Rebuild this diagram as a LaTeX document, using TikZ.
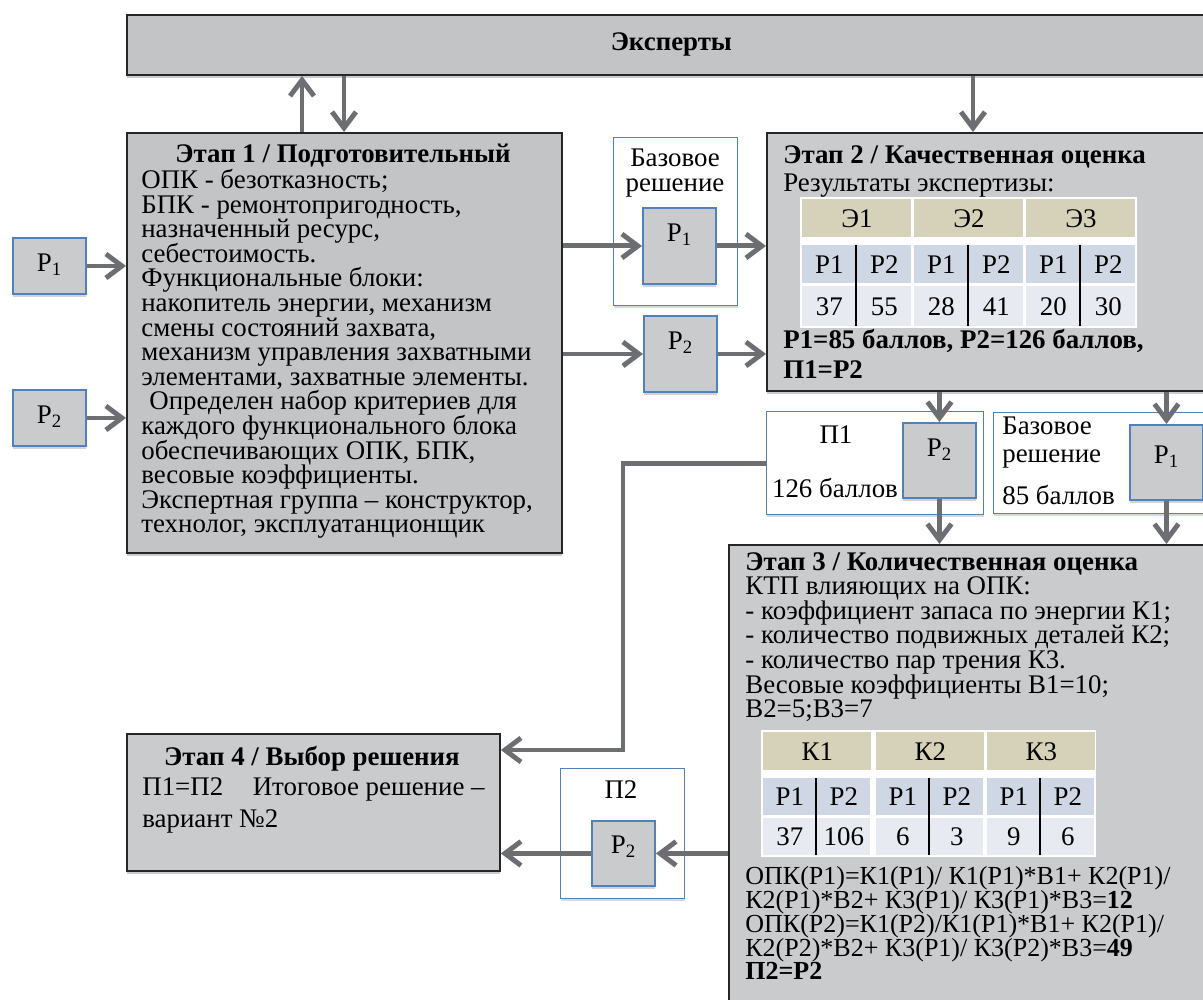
\documentclass[tikz,border=0pt]{standalone}
\usepackage{fontspec}
\setmainfont{Liberation Serif}
\usetikzlibrary{arrows.meta,shadows,positioning}

\definecolor{stagegray}{HTML}{CACBCD}
\definecolor{bargray}{HTML}{C3C4C6}
\definecolor{flowgray}{HTML}{6D6E71}
\definecolor{varblue}{HTML}{4F81BD}
\definecolor{headtan}{HTML}{D5D2B9}
\definecolor{rowblue}{HTML}{CFD6E4}
\definecolor{rowlight}{HTML}{E8EAF2}

\newcommand\bodyfont{\fontsize{15.3}{14}\selectfont\lineskiplimit=-20pt\relax}
\newcommand\calcfont{\fontsize{14.8}{13.6}\selectfont\lineskiplimit=-20pt\relax}

\tikzset{
  stage/.style={draw=black!85, line width=1.1pt, fill=stagegray, inner sep=0pt, anchor=north west,
    drop shadow={shadow xshift=0pt, shadow yshift=-1.8pt, opacity=0.4}},
  holder/.style={draw=varblue, line width=0.8pt, fill=white, inner sep=0pt, anchor=north west,
    drop shadow={shadow xshift=0pt, shadow yshift=-1.5pt, opacity=0.3}},
  pvar/.style={draw=varblue, line width=1.1pt, fill=stagegray, inner sep=0pt, anchor=north west,
    minimum width=1.46cm, drop shadow={shadow xshift=0pt, shadow yshift=-1.8pt, opacity=0.35}},
  flow/.style={draw=flowgray, line width=2.8pt, -{Straight Barb[length=3.2mm,width=4.8mm]}},
  textblock/.style={anchor=north west, align=left, inner sep=0pt},
  headcell/.style={anchor=north west, fill=headtan, inner sep=0pt, minimum height=0.76cm},
  varcell/.style={anchor=north west, fill=rowblue, inner sep=0pt, minimum height=0.76cm},
  numcell/.style={anchor=north west, fill=rowlight, inner sep=0pt, minimum height=0.8cm},
  divider/.style={draw=black, line width=1.6pt}
}

\begin{document}
\begin{tikzpicture}[x=0.02cm, y=-0.02cm, every node/.style={font=\bodyfont}]
\useasboundingbox (0,0) rectangle (1203,1000);
\clip (0,0) rectangle (1203,1000);

% experts and stages
\node[stage, fill=bargray, minimum width=21.78cm, minimum height=1.2cm] (experts) at (126,14) {};
\node[font=\bodyfont\bfseries] (expertslbl) at (experts.center) {Эксперты};
\node[stage, fill=bargray, minimum width=8.7cm, minimum height=8.4cm] (st1) at (126,132) {};
\node[stage, minimum width=8.98cm, minimum height=5.16cm] (st2) at (766,132) {};
\node[stage, minimum width=9.74cm, minimum height=9.32cm] (st3) at (728,544) {};
\node[stage, minimum width=7.46cm, minimum height=2.74cm] (st4) at (126,733) {};

% solution holders
\node[holder, minimum width=2.48cm, minimum height=3.36cm] (base1) at (613,137) {};
\node[holder, minimum width=4.34cm, minimum height=2.06cm] (pick1) at (766,411) {};
\node[holder, minimum width=4.44cm, minimum height=2.02cm] (base2) at (993,412) {};
\node[holder, minimum width=2.48cm, minimum height=2.6cm] (pick2) at (560,768) {};

% variants
\node[pvar, text height=0.68cm, text depth=0.44cm] (pa) at (12,237) {Р\textsubscript{1}};
\node[pvar, text height=0.68cm, text depth=0.44cm] (pb) at (12,389) {Р\textsubscript{2}};
\node[pvar, text height=0.68cm, text depth=0.84cm] (bp1) at (642,207) {Р\textsubscript{1}};
\node[pvar, text height=0.68cm, text depth=0.84cm] (mp2) at (643,315) {Р\textsubscript{2}};
\node[pvar, text height=0.68cm, text depth=0.82cm] (q1p2) at (902,422) {Р\textsubscript{2}};
\node[pvar, text height=0.78cm, text depth=0.72cm] (q2p1) at (1129,424) {Р\textsubscript{1}};
\node[pvar, minimum width=1.26cm, text height=0.66cm, text depth=0.64cm] (q3p2) at (591,820) {Р\textsubscript{2}};

% texts
\node[textblock, font=\bodyfont\bfseries, anchor=north] (st1title) at (343,144) {Этап 1 / Подготовительный};
\node[textblock] (st1text) at (141,169) {ОПК - безотказность;\\БПК - ремонтопригодность,\\назначенный ресурс,\\себестоимость.\\Функциональные блоки:\\накопитель энергии, механизм\\смены состояний захвата,\\механизм управления захватными\\элементами, захватные элементы.\\\hspace{0.3em}Определен набор критериев для\\каждого функционального блока\\обеспечивающих ОПК, БПК,\\весовые коэффициенты.\\Экспертная группа – конструктор,\\технолог, эксплуатанционщик};

\node[textblock, font=\bodyfont\bfseries] (st2title) at (783,145) {Этап 2 / Качественная оценка};
\node[textblock] (st2sub) at (783,174) {Результаты экспертизы:};
\node[textblock, font=\fontsize{15.3}{17}\selectfont\bfseries] (st2res) at (783,329) {Р1=85 баллов, Р2=126 баллов,\\П1=Р2};

\node[textblock] (st3text) at (745,552) {\textbf{Этап 3 / Количественная оценка}\\КТП влияющих на ОПК:\\- коэффициент запаса по энергии К1;\\- количество подвижных деталей К2;\\- количество пар трения К3.\\Весовые коэффициенты В1=10;\\В2=5;В3=7};
\node[textblock, font=\calcfont] (st3calc) at (745,866) {ОПК(Р1)=К1(Р1)/ К1(Р1)*В1+ К2(Р1)/\\К2(Р1)*В2+ К3(Р1)/ К3(Р1)*В3=\textbf{12}\\ОПК(Р2)=К1(Р2)/К1(Р1)*В1+ К2(Р1)/\\К2(Р2)*В2+ К3(Р1)/ К3(Р2)*В3=\textbf{49}\\\textbf{П2=Р2}};

\node[textblock, font=\bodyfont\bfseries, anchor=north] (st4title) at (312,746) {Этап 4 / Выбор решения};
\node[textblock, font=\fontsize{15.3}{18.4}\selectfont] (st4text) at (142,777) {П1=П2\hspace{1.1em}Итоговое решение –\\вариант №2};

\node[textblock, anchor=north, align=center] (base1lbl) at (675,149) {Базовое\\решение};
\node (pick1lbl) at (836,435) {П1};
\node (pick1pts) at (835,488) {126 баллов};
\node[textblock, font=\fontsize{15.3}{15.4}\selectfont] (base2lbl) at (1002,417) {Базовое\\решение};
\node[anchor=west, inner sep=0pt] (base2pts) at (1002,495) {85 баллов};
\node (pick2lbl) at (621,790) {П2};

% table of experts
\fill[white] (800,197) rectangle (1137,328);
\foreach \x/\lab [count=\i] in {802/Э1,914/Э2,1026/Э3}
  \node[headcell, minimum width=2.18cm] (eh\i) at (\x,199) {\lab};
\foreach \x/\lab [count=\i] in {802/Р1,857/Р2,914/Р1,969/Р2,1026/Р1,1081/Р2}
  \node[varcell, minimum width=1.08cm] (ev\i) at (\x,245) {\lab};
\foreach \x/\v [count=\i] in {802/37,857/55,914/28,969/41,1026/20,1081/30}
  \node[numcell, minimum width=1.08cm] (en\i) at (\x,286) {\v};
\foreach \x in {856,968,1080}
  \draw[divider] (\x,245) -- (\x,326);

% table of criteria
\fill[white] (761,730) rectangle (1096,857);
\foreach \x/\lab [count=\i] in {763/К1,876/К2,987/К3}
  \node[headcell, minimum width=2.16cm] (kh\i) at (\x,732) {\lab};
\foreach \x/\lab [count=\i] in {763/Р1,817/Р2,876/Р1,930/Р2,987/Р1,1041/Р2}
  \node[varcell, minimum width=1.06cm, minimum height=0.74cm] (kv\i) at (\x,778) {\lab};
\foreach \x/\v [count=\i] in {763/37,817/106,876/6,930/3,987/9,1041/6}
  \node[numcell, minimum width=1.06cm, minimum height=0.74cm] (kn\i) at (\x,818) {\v};
\foreach \x in {816,929,1040}
  \draw[divider] (\x,778) -- (\x,855);

% connectors
\coordinate (upx) at (302,0);
\coordinate (downx) at (344,0);
\coordinate (st2x) at (973,0);
\coordinate (turn) at (623,750);
\draw[flow] (upx |- st1.north) -- (upx |- experts.south);
\draw[flow] (downx |- experts.south) -- (downx |- st1.north);
\draw[flow] (st2x |- experts.south) -- (st2x |- st2.north);
\draw[flow] (pa.east) -- (pa.east -| st1.west);
\draw[flow] (pb.east) -- (pb.east -| st1.west);
\draw[flow] (bp1.west -| st1.east) -- (bp1.west);
\draw[flow] (bp1.east) -- (bp1.east -| st2.west);
\draw[flow] (mp2.west -| st1.east) -- (mp2.west);
\draw[flow] (mp2.east) -- (mp2.east -| st2.west);
\draw[flow] (q1p2.north |- st2.south) -- (q1p2.north);
\draw[flow] (q1p2.south) -- (q1p2.south |- st3.north);
\draw[flow] (q2p1.north |- st2.south) -- (q2p1.north);
\draw[flow] (q2p1.south) -- (q2p1.south |- st3.north);
\draw[flow] (pick1.west) -| (turn) -- (turn -| st4.east);
\draw[flow] (q3p2.east -| st3.west) -- (q3p2.east);
\draw[flow] (q3p2.west) -- (q3p2.west -| st4.east);
\end{tikzpicture}
\end{document}
